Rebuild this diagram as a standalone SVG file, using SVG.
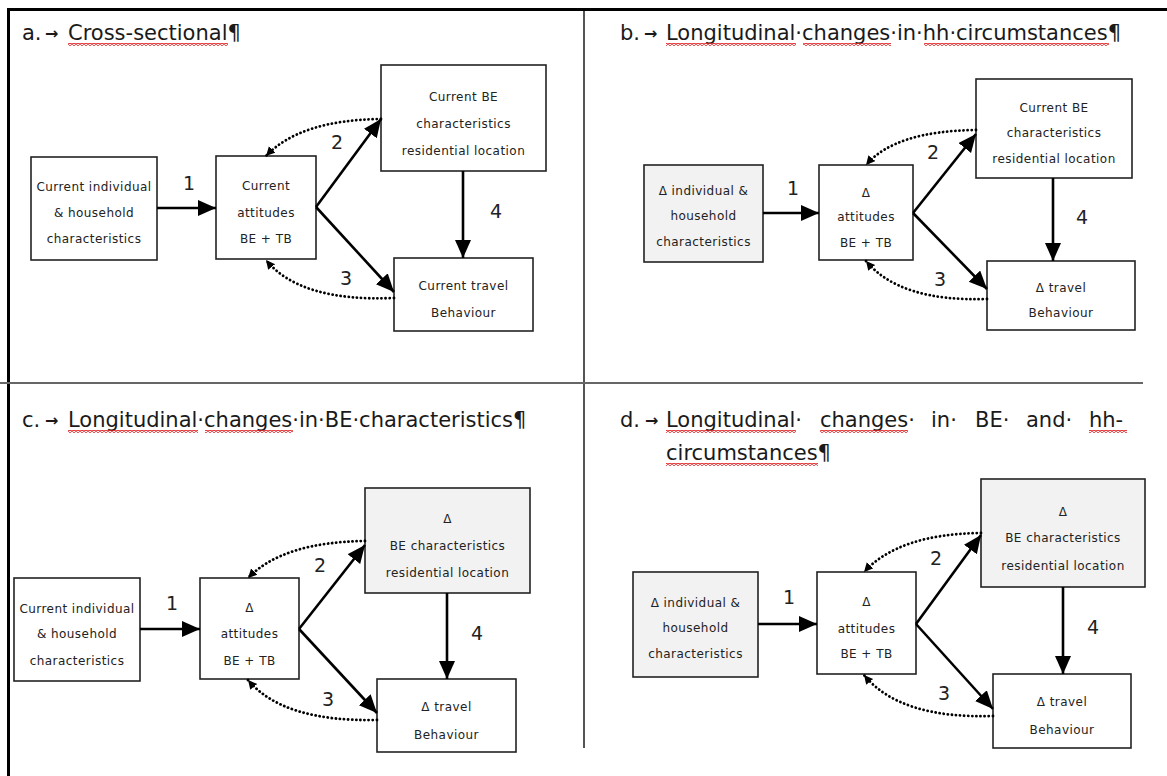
<svg xmlns="http://www.w3.org/2000/svg" width="1167" height="776" viewBox="0 0 1167 776">
<style>
.title{font-family:"DejaVu Sans",Verdana,sans-serif;font-size:21px;fill:#1a1a1a}
.arr{font-family:"DejaVu Sans",sans-serif;font-size:16px;font-weight:bold;fill:#1a1a1a}
.box{fill:#fff;stroke:#222;stroke-width:1.6}
.grey{fill:#f2f2f2}
.bt{font-family:"DejaVu Sans",Verdana,sans-serif;font-size:12px;letter-spacing:0.45px;fill:#222;text-anchor:middle}
.num{font-family:"DejaVu Sans",Verdana,sans-serif;font-size:19px;fill:#222;text-anchor:middle}
.solid{fill:none;stroke:#000;stroke-width:2.6;marker-end:url(#ah)}
.dot{fill:none;stroke:#000;stroke-width:2.8;stroke-dasharray:0.1 4;stroke-linecap:round;marker-end:url(#dh)}
.wave{fill:url(#wv)}
</style>
<defs>
<marker id="ah" markerUnits="userSpaceOnUse" markerWidth="20" markerHeight="18" refX="18" refY="8" orient="auto">
<path d="M0,0 L18,8 L0,16 z" fill="#000"/>
</marker>
<marker id="dh" markerUnits="userSpaceOnUse" markerWidth="11" markerHeight="10" refX="9" refY="4.5" orient="auto">
<path d="M0,0 L9,4.5 L0,9 z" fill="#000"/>
</marker>
<pattern id="wv" width="4" height="3" patternUnits="userSpaceOnUse">
<path d="M0,2.5 L2,0.5 L4,2.5" fill="none" stroke="#e02020" stroke-width="1.1"/>
</pattern>
</defs>

<g id="frame">
<line x1="7" y1="9.5" x2="1167" y2="9.5" stroke="#000" stroke-width="3"/>
<line x1="8.5" y1="8" x2="8.5" y2="776" stroke="#000" stroke-width="3"/>
<line x1="584" y1="11" x2="584" y2="748" stroke="#555" stroke-width="2"/>
<line x1="0" y1="383" x2="1143" y2="383" stroke="#666" stroke-width="2"/>
</g>

<g id="titles">
<text class="title" x="22" y="40">a.</text><text class="arr" x="45" y="39">→</text>
<text class="title" x="68" y="40">Cross-sectional¶</text>
<rect class="wave" x="68" y="43" width="160" height="3"/>

<text class="title" x="620" y="40">b.</text><text class="arr" x="644" y="39">→</text>
<text class="title" x="666" y="40">Longitudinal·changes·in·hh·circumstances¶</text>
<rect class="wave" x="666" y="43" width="130" height="3"/>
<rect class="wave" x="803" y="43" width="88" height="3"/>
<rect class="wave" x="924" y="43" width="185" height="3"/>

<text class="title" x="22" y="427">c.</text><text class="arr" x="45" y="426">→</text>
<text class="title" x="68" y="427">Longitudinal·changes·in·BE·characteristics¶</text>
<rect class="wave" x="68" y="430" width="130" height="3"/>
<rect class="wave" x="205" y="430" width="88" height="3"/>

<text class="title" x="620" y="427">d.</text><text class="arr" x="645" y="426">→</text>
<text class="title" x="666" y="427">Longitudinal·</text>
<text class="title" x="820" y="427">changes·</text>
<text class="title" x="931" y="427">in·</text>
<text class="title" x="975" y="427">BE·</text>
<text class="title" x="1026" y="427">and·</text>
<text class="title" x="1089" y="427">hh-</text>
<text class="title" x="666" y="460">circumstances¶</text>
<rect class="wave" x="666" y="430" width="130" height="3"/>
<rect class="wave" x="820" y="430" width="88" height="3"/>
<rect class="wave" x="1089" y="430" width="38" height="3"/>
<rect class="wave" x="666" y="463" width="152" height="3"/>
</g>

<!-- Panel a -->
<g id="a-individual">
<rect class="box" x="31" y="157" width="126" height="103"/>
<text class="bt" x="94" y="191">Current individual</text>
<text class="bt" x="94" y="217">&amp; household</text>
<text class="bt" x="94" y="243">characteristics</text>
</g>
<g id="a-attitudes">
<rect class="box" x="216" y="156" width="100" height="103"/>
<text class="bt" x="266" y="190">Current</text>
<text class="bt" x="266" y="217">attitudes</text>
<text class="bt" x="266" y="243">BE + TB</text>
</g>
<g id="a-be">
<rect class="box" x="381" y="65" width="165" height="106"/>
<text class="bt" x="463.5" y="101">Current BE</text>
<text class="bt" x="463.5" y="128">characteristics</text>
<text class="bt" x="463.5" y="155">residential location</text>
</g>
<g id="a-travel">
<rect class="box" x="394" y="258" width="139" height="73"/>
<text class="bt" x="463.5" y="290">Current travel</text>
<text class="bt" x="463.5" y="317">Behaviour</text>
</g>

<!-- Panel b -->
<g id="b-individual">
<rect class="box grey" x="644" y="165" width="119" height="97"/>
<text class="bt" x="703.5" y="195">Δ individual &amp;</text>
<text class="bt" x="703.5" y="220">household</text>
<text class="bt" x="703.5" y="246">characteristics</text>
</g>
<g id="b-attitudes">
<rect class="box" x="819" y="165" width="94" height="95"/>
<text class="bt" x="866" y="197">Δ</text>
<text class="bt" x="866" y="221">attitudes</text>
<text class="bt" x="866" y="247">BE + TB</text>
</g>
<g id="b-be">
<rect class="box" x="976" y="79" width="156" height="99"/>
<text class="bt" x="1054" y="112">Current BE</text>
<text class="bt" x="1054" y="137">characteristics</text>
<text class="bt" x="1054" y="163">residential location</text>
</g>
<g id="b-travel">
<rect class="box" x="987" y="261" width="148" height="69"/>
<text class="bt" x="1061" y="292">Δ travel</text>
<text class="bt" x="1061" y="317">Behaviour</text>
</g>

<!-- Panel c -->
<g id="c-individual">
<rect class="box" x="14" y="578" width="126" height="103"/>
<text class="bt" x="77" y="613">Current individual</text>
<text class="bt" x="77" y="638">&amp; household</text>
<text class="bt" x="77" y="665">characteristics</text>
</g>
<g id="c-attitudes">
<rect class="box" x="200" y="578" width="99" height="101"/>
<text class="bt" x="249.5" y="612">Δ</text>
<text class="bt" x="249.5" y="638">attitudes</text>
<text class="bt" x="249.5" y="665">BE + TB</text>
</g>
<g id="c-be">
<rect class="box grey" x="365" y="488" width="165" height="105"/>
<text class="bt" x="447.5" y="523">Δ</text>
<text class="bt" x="447.5" y="550">BE characteristics</text>
<text class="bt" x="447.5" y="577">residential location</text>
</g>
<g id="c-travel">
<rect class="box" x="377" y="679" width="139" height="73"/>
<text class="bt" x="446.5" y="711">Δ travel</text>
<text class="bt" x="446.5" y="739">Behaviour</text>
</g>

<!-- Panel d -->
<g id="d-individual">
<rect class="box grey" x="633" y="572" width="125" height="105"/>
<text class="bt" x="695.5" y="607">Δ individual &amp;</text>
<text class="bt" x="695.5" y="632">household</text>
<text class="bt" x="695.5" y="658">characteristics</text>
</g>
<g id="d-attitudes">
<rect class="box" x="817" y="572" width="99" height="102"/>
<text class="bt" x="866.5" y="606">Δ</text>
<text class="bt" x="866.5" y="633">attitudes</text>
<text class="bt" x="866.5" y="658">BE + TB</text>
</g>
<g id="d-be">
<rect class="box grey" x="981" y="479" width="164" height="108"/>
<text class="bt" x="1063" y="516">Δ</text>
<text class="bt" x="1063" y="542">BE characteristics</text>
<text class="bt" x="1063" y="570">residential location</text>
</g>
<g id="d-travel">
<rect class="box" x="993" y="674" width="138" height="74"/>
<text class="bt" x="1062" y="706">Δ travel</text>
<text class="bt" x="1062" y="734">Behaviour</text>
</g>

<g id="connectors">
<!-- a -->
<path class="solid" d="M157,208 L216,208"/>
<path class="solid" d="M316,207 L381,119"/>
<path class="solid" d="M316,207 L394,292"/>
<path class="solid" d="M463,171 L463,258"/>
<path class="dot" d="M381,119 Q300,120 266,156"/>
<path class="dot" d="M394,298 Q300,302 266,260"/>
<!-- b -->
<path class="solid" d="M763,213 L819,213"/>
<path class="solid" d="M913,213 L976,134"/>
<path class="solid" d="M913,213 L987,289"/>
<path class="solid" d="M1053,178 L1053,261"/>
<path class="dot" d="M976,130 Q895,131 866,165"/>
<path class="dot" d="M987,299 Q900,302 866,261"/>
<!-- c -->
<path class="solid" d="M140,629 L200,629"/>
<path class="solid" d="M299,629 L365,545"/>
<path class="solid" d="M299,629 L377,713"/>
<path class="solid" d="M447,593 L447,679"/>
<path class="dot" d="M365,541 Q283,542 248,578"/>
<path class="dot" d="M377,720 Q283,722 248,680"/>
<!-- d -->
<path class="solid" d="M758,624 L817,624"/>
<path class="solid" d="M916,624 L981,535"/>
<path class="solid" d="M916,624 L993,709"/>
<path class="solid" d="M1063,587 L1063,674"/>
<path class="dot" d="M981,533 Q899,534 864,572"/>
<path class="dot" d="M993,716 Q900,719 864,675"/>
</g>

<g id="labels">
<text class="num" x="189" y="190">1</text>
<text class="num" x="337" y="149">2</text>
<text class="num" x="346" y="285">3</text>
<text class="num" x="496" y="218">4</text>
<text class="num" x="793" y="195">1</text>
<text class="num" x="933" y="159">2</text>
<text class="num" x="940" y="286">3</text>
<text class="num" x="1082" y="224">4</text>
<text class="num" x="172" y="610">1</text>
<text class="num" x="320" y="572">2</text>
<text class="num" x="328" y="706">3</text>
<text class="num" x="477" y="640">4</text>
<text class="num" x="789" y="604">1</text>
<text class="num" x="936" y="565">2</text>
<text class="num" x="944" y="700">3</text>
<text class="num" x="1093" y="634">4</text>
</g>
</svg>
